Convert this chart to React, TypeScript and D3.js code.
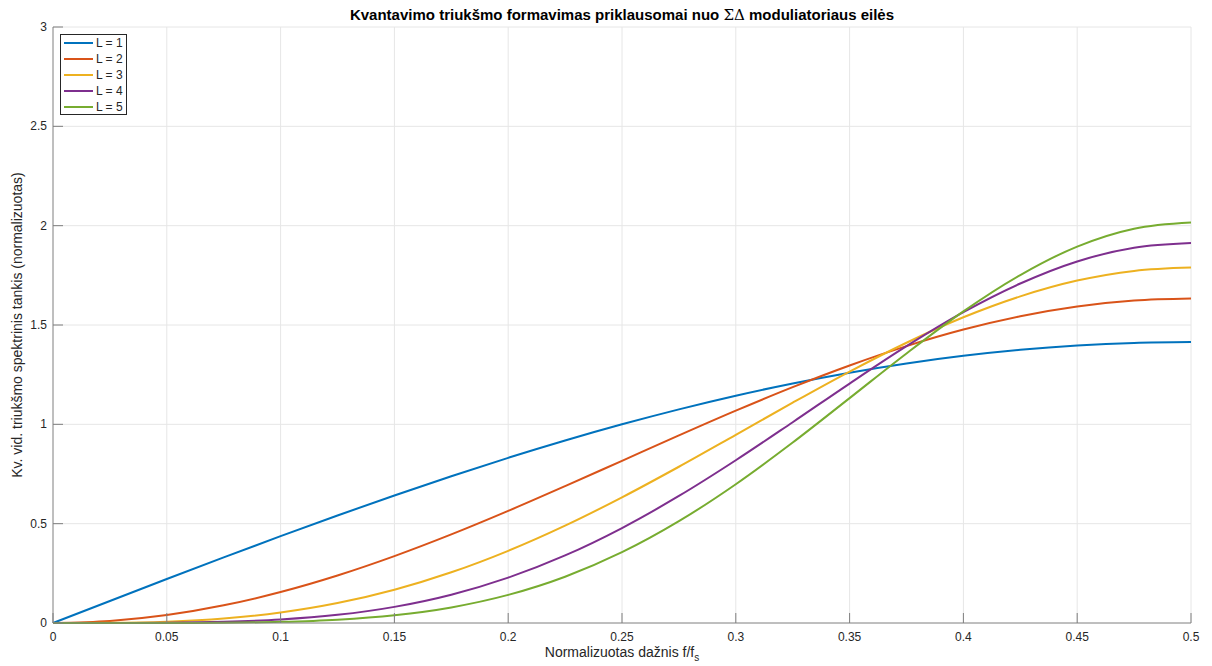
import React from "react";
import * as d3 from "d3";

const freqs = [0, 0.025, 0.05, 0.075, 0.1, 0.125, 0.15, 0.175, 0.2, 0.225, 0.25, 0.275, 0.3, 0.325, 0.35, 0.375, 0.4, 0.425, 0.45, 0.475, 0.5];
const seriesL1 = [0, 0.1110, 0.2212, 0.3301, 0.4370, 0.5412, 0.6420, 0.7389, 0.8313, 0.9185, 1.0000, 1.0754, 1.1441, 1.2058, 1.2601, 1.3066, 1.3450, 1.3751, 1.3968, 1.4099, 1.4142];
const seriesL2 = [0, 0.0101, 0.0400, 0.0890, 0.1559, 0.2391, 0.3366, 0.4458, 0.5642, 0.6888, 0.8165, 0.9442, 1.0688, 1.1872, 1.2964, 1.3938, 1.4771, 1.5440, 1.5930, 1.6229, 1.6330];
const seriesL3 = [0, 0.0009, 0.0068, 0.0228, 0.0528, 0.1003, 0.1674, 0.2552, 0.3633, 0.4900, 0.6325, 0.7865, 0.9472, 1.1089, 1.2654, 1.4107, 1.5388, 1.6442, 1.7236, 1.7724, 1.7889];
const seriesL4 = [0, 0.0001, 0.0011, 0.0057, 0.0174, 0.0410, 0.0812, 0.1425, 0.2283, 0.3402, 0.4781, 0.6394, 0.8192, 1.0107, 1.2053, 1.3933, 1.5646, 1.7087, 1.8199, 1.8889, 1.9124];
const seriesL5 = [0, 0.0000, 0.0002, 0.0014, 0.0057, 0.0165, 0.0389, 0.0785, 0.1414, 0.2329, 0.3563, 0.5125, 0.6986, 0.9084, 1.1320, 1.3568, 1.5685, 1.7514, 1.8948, 1.9849, 2.0158];
const seriesNames = ["L = 1", "L = 2", "L = 3", "L = 4", "L = 5"];
const seriesColors = ["#0072BD", "#D95319", "#EDB120", "#7E2F8E", "#77AC30"];
const xTicks = [0, 0.05, 0.1, 0.15, 0.2, 0.25, 0.3, 0.35, 0.4, 0.45, 0.5];
const yTicks = [0, 0.5, 1, 1.5, 2, 2.5, 3];

const W = 1212, H = 666;
const left = 53, right = 1191, top = 27, bottom = 623;
const FONT = "'Liberation Sans', Arial, Helvetica, sans-serif";

export default function App() {
  const x = d3.scaleLinear().domain([0, 0.5]).range([left, right]);
  const y = d3.scaleLinear().domain([0, 3]).range([bottom, top]);
  const all = [seriesL1, seriesL2, seriesL3, seriesL4, seriesL5];
  const line = d3
    .line<number>()
    .x((_, i) => x(freqs[i]))
    .y((d) => y(d))
    .curve(d3.curveMonotoneX);

  const axisColor = "#7f7f7f";
  const textColor = "#262626";
  const gridColor = "#e6e6e6";

  return (
    <svg width={W} height={H} style={{ position: "absolute", left: 0, top: 0, display: "block", background: "#fff" }} fontFamily={FONT}>
      <rect x={0} y={0} width={W} height={H} fill="#fff" />
      {xTicks.filter((t) => t > 0).map((t) => (
        <line key={"gx" + t} x1={x(t)} x2={x(t)} y1={top} y2={bottom} stroke={gridColor} strokeWidth={1} />
      ))}
      {yTicks.filter((t) => t > 0).map((t) => (
        <line key={"gy" + t} x1={left} x2={right} y1={y(t)} y2={y(t)} stroke={gridColor} strokeWidth={1} />
      ))}
      {all.map((s, i) => (
        <path key={"s" + i} d={line(s) || ""} fill="none" stroke={seriesColors[i]} strokeWidth={2} />
      ))}
      <line x1={left} x2={right} y1={bottom} y2={bottom} stroke={axisColor} strokeWidth={1} />
      <line x1={left} x2={left} y1={top} y2={bottom} stroke={axisColor} strokeWidth={1} />
      {xTicks.map((t) => (
        <g key={"xt" + t}>
          <line x1={x(t)} x2={x(t)} y1={bottom} y2={bottom - 10} stroke={axisColor} strokeWidth={1} />
          <text x={x(t)} y={bottom + 18} textAnchor="middle" fontSize={12} fill={textColor}>
            {String(t)}
          </text>
        </g>
      ))}
      {yTicks.map((t) => (
        <g key={"yt" + t}>
          <line x1={left} x2={left + 10} y1={y(t)} y2={y(t)} stroke={axisColor} strokeWidth={1} />
          <text x={left - 6} y={y(t) + 4} textAnchor="end" fontSize={12} fill={textColor}>
            {String(t)}
          </text>
        </g>
      ))}
      <text x={(left + right) / 2} y={20} textAnchor="middle" fontSize={15} fontWeight="bold" fill="#000">
        Kvantavimo triukšmo formavimas priklausomai nuo <tspan fontWeight="normal" fontFamily="'DejaVu Serif', serif">ΣΔ</tspan> moduliatoriaus eilės
      </text>
      <text x={(left + right) / 2} y={657} textAnchor="middle" fontSize={14} fill={textColor}>
        Normalizuotas dažnis f/f<tspan dy={4} fontSize={10}>s</tspan>
      </text>
      <text transform={`translate(22, ${(top + bottom) / 2}) rotate(-90)`} textAnchor="middle" fontSize={14} fill={textColor}>
        Kv. vid. triukšmo spektrinis tankis (normalizuotas)
      </text>
      <rect x={60.5} y={34.5} width={66} height={80} fill="#fff" stroke="#262626" strokeWidth={1} />
      {seriesNames.map((n, i) => (
        <g key={"lg" + i}>
          <line x1={64} x2={93} y1={43 + i * 16} y2={43 + i * 16} stroke={seriesColors[i]} strokeWidth={2} />
          <text x={96} y={47 + i * 16} fontSize={12} fill={textColor}>
            {n}
          </text>
        </g>
      ))}
    </svg>
  );
}
